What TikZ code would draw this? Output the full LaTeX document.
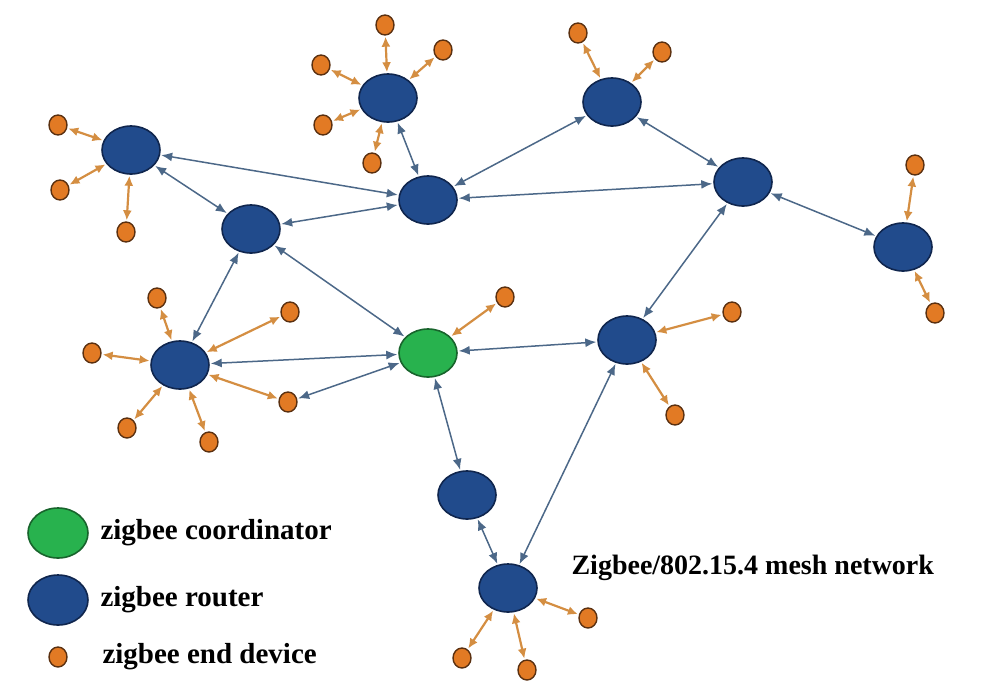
\documentclass[tikz,border=0pt]{standalone}
\usepackage{fontspec}
\setmainfont{Liberation Serif}
\usetikzlibrary{shapes}
\usetikzlibrary{arrows}
\usetikzlibrary{arrows.meta}
\usetikzlibrary{positioning}
\definecolor{routerblue}{RGB}{33,75,140}
\definecolor{routerline}{RGB}{16,38,78}
\definecolor{coordgreen}{RGB}{40,178,78}
\definecolor{coordline}{RGB}{24,100,44}
\definecolor{devorange}{RGB}{226,122,36}
\definecolor{devline}{RGB}{90,48,16}
\definecolor{meshblue}{RGB}{76,104,136}
\definecolor{leaforange}{RGB}{212,142,66}

\begin{document}
\begin{tikzpicture}[x=1pt,y=-1pt]
\tikzstyle{router}=[ellipse,draw=routerline,fill=routerblue,line width=1.6pt,
inner sep=0pt,minimum width=58pt,minimum height=48pt]
\tikzstyle{coordinator}=[router,draw=coordline,fill=coordgreen]
\tikzstyle{enddev}=[ellipse,draw=devline,fill=devorange,line width=1.4pt,
inner sep=0pt,minimum width=18pt,minimum height=20pt]
\tikzstyle{mesh}=[<->,>={Latex[length=11pt,width=9pt]},draw=meshblue,line width=1.5pt,
shorten >=1pt,shorten <=1pt]
\tikzstyle{leaf}=[<->,>={Latex[length=10pt,width=9pt]},draw=leaforange,line width=2.2pt,
shorten >=1pt,shorten <=1pt]
\tikzstyle{legend}=[anchor=west,font=\fontsize{29}{33}\selectfont\bfseries]
\useasboundingbox (0,0) rectangle (993,683);

% routers and coordinator
\node[router] (r west) at (131,150) {};
\node[router] (r top) at (388,98) {};
\node[router] (r centre) at (428,200) {};
\node[router] (r mid) at (251,229) {};
\node[router] (r north) at (612,102) {};
\node[router] (r east) at (743,182) {};
\node[router] (r far) at (903,247) {};
\node[router] (r left) at (180,365) {};
\node[coordinator] (coord) at (428,353) {};
\node[router] (r right) at (627,340) {};
\node[router] (r low) at (467,495) {};
\node[router] (r bottom) at (508,588) {};

% end devices
\node[enddev] (d top1) at (385,25) {};
\node[enddev] (d top2) at (443,50) {};
\node[enddev] (d top3) at (321,65) {};
\node[enddev] (d top4) at (323,125) {};
\node[enddev] (d top5) at (372,163) {};
\node[enddev] (d west1) at (58,125) {};
\node[enddev] (d west2) at (60,190) {};
\node[enddev] (d west3) at (126,232) {};
\node[enddev] (d north1) at (578,33) {};
\node[enddev] (d north2) at (662,52) {};
\node[enddev] (d far1) at (915,165) {};
\node[enddev] (d far2) at (935,313) {};
\node[enddev] (d coord) at (505,297) {};
\node[enddev] (d right1) at (732,312) {};
\node[enddev] (d right2) at (675,415) {};
\node[enddev] (d left1) at (157,298) {};
\node[enddev] (d left2) at (290,312) {};
\node[enddev] (d left3) at (92,353) {};
\node[enddev] (d left4) at (127,428) {};
\node[enddev] (d left5) at (209,442) {};
\node[enddev] (d left6) at (288,402) {};
\node[enddev] (d bottom1) at (588,618) {};
\node[enddev] (d bottom2) at (462,658) {};
\node[enddev] (d bottom3) at (527,670) {};

% mesh links
\draw[mesh] (r west) to (r centre);
\draw[mesh] (r west) to (r mid);
\draw[mesh] (r mid) to (r centre);
\draw[mesh] (r top) to (r centre);
\draw[mesh] (r centre) to (r north);
\draw[mesh] (r centre) to (r east);
\draw[mesh] (r north) to (r east);
\draw[mesh] (r east) to (r far);
\draw[mesh] (r east) to (r right);
\draw[mesh] (r mid) to (r left);
\draw[mesh] (r mid) to (coord);
\draw[mesh] (r left) to (coord);
\draw[mesh] (coord) to (d left6);
\draw[mesh] (coord) to (r right);
\draw[mesh] (coord) to (r low);
\draw[mesh] (r low) to (r bottom);
\draw[mesh] (r right) to (r bottom);

% end device links
\draw[leaf] (r top) to (d top1);
\draw[leaf] (r top) to (d top2);
\draw[leaf] (r top) to (d top3);
\draw[leaf] (r top) to (d top4);
\draw[leaf] (r top) to (d top5);
\draw[leaf] (r west) to (d west1);
\draw[leaf] (r west) to (d west2);
\draw[leaf] (r west) to (d west3);
\draw[leaf] (r north) to (d north1);
\draw[leaf] (r north) to (d north2);
\draw[leaf] (r far) to (d far1);
\draw[leaf] (r far) to (d far2);
\draw[leaf] (coord) to (d coord);
\draw[leaf] (r right) to (d right1);
\draw[leaf] (r right) to (d right2);
\draw[leaf] (r left) to (d left1);
\draw[leaf] (r left) to (d left2);
\draw[leaf] (r left) to (d left3);
\draw[leaf] (r left) to (d left4);
\draw[leaf] (r left) to (d left5);
\draw[leaf] (r left) to (d left6);
\draw[leaf] (r bottom) to (d bottom1);
\draw[leaf] (r bottom) to (d bottom2);
\draw[leaf] (r bottom) to (d bottom3);

% legend
\node[coordinator,minimum width=60pt,minimum height=50pt] (key coord) at (58,533) {};
\node[router,minimum width=60pt,minimum height=50pt] (key router) at (58,600) {};
\node[enddev] (key dev) at (58,657) {};
\node[legend] (txt coord) at (97,533) {zigbee coordinator};
\node[legend] (txt router) at (97,600) {zigbee router};
\node[legend] (txt dev) at (99,657) {zigbee end device};
\node[legend,font=\fontsize{28}{32}\selectfont\bfseries] (title) at (568,568) {Zigbee/802.15.4 mesh network};
\end{tikzpicture}
\end{document}
